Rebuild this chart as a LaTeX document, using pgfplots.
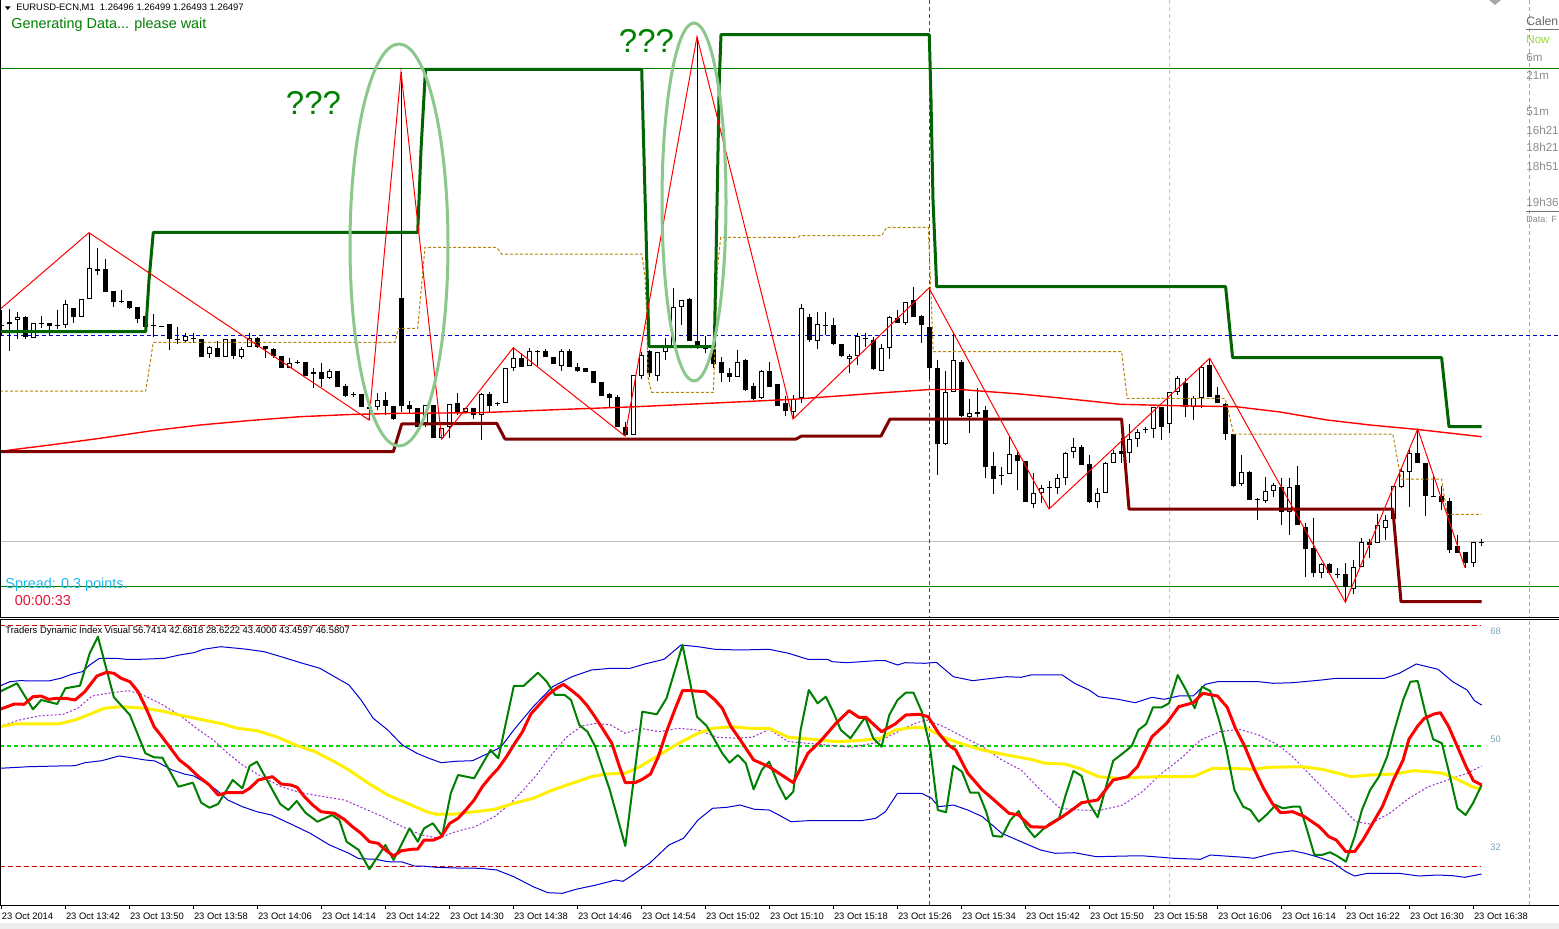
\documentclass[border=0pt]{standalone}
\usepackage{pgfplots}
\pgfplotsset{compat=1.18}
\usepackage{pgfplotstable}
\usepackage{fontspec}
\setmainfont{Liberation Sans}

\definecolor{mtgreen}{RGB}{0,128,0}
\definecolor{stepgreen}{RGB}{0,100,0}
\definecolor{stepred}{RGB}{128,0,0}
\definecolor{golden}{RGB}{184,134,11}
\definecolor{lineblue}{RGB}{0,0,205}
\definecolor{bandblue}{RGB}{0,0,210}
\definecolor{tdipurple}{RGB}{153,50,204}
\definecolor{tdiyellow}{RGB}{255,240,0}
\definecolor{ellgreen}{RGB}{140,200,140}
\definecolor{spreadblue}{RGB}{30,185,240}
\definecolor{timered}{RGB}{230,20,60}
\definecolor{scalegray}{RGB}{125,165,185}
\definecolor{calgray}{RGB}{140,140,140}
\definecolor{nowgreen}{RGB}{150,215,60}
\definecolor{vyellow}{RGB}{225,210,60}
\definecolor{vorange}{RGB}{255,150,20}
\definecolor{bidgray}{RGB}{192,192,192}
\definecolor{levelgreen}{RGB}{0,215,0}
\definecolor{levelred}{RGB}{210,0,0}

% ---------- M1 candles (i = bar index, o/h/l/c = vertical chart position, px from top)
\pgfplotstableread{
i o h l c
0 325 310 335 326
1 324.3 309.3 350.7 322.3
2 320 312.3 339 316.7
3 316.7 316 339 336.7
4 338.3 323.3 338.3 323.3
5 323.3 315.7 328.3 323.8
6 323.3 323.3 335 325.7
7 325 310 329 325.5
8 325 300 328.3 304.3
9 308.3 308.3 323.3 317.3
10 316.7 299.3 316.7 299.3
11 298.7 232.7 298.7 268.3
12 269 248.3 275 270.7
13 269 259.3 291.7 291.7
14 291 291 306.7 301.7
15 301 290 302.7 301.5
16 301 301 309.3 308.3
17 307.3 307.3 323.3 319
18 315.7 315.7 327.3 326.7
19 325 314.3 336.7 325.5
20 326 326 326.5 326.5
21 324.3 324.3 350 338.7
22 339.3 327.3 344 339.8
23 340.7 332.7 343.3 336
24 338.3 333.3 343.3 338.8
25 339 339 356.7 356.7
26 354.3 346 358.3 347
27 348.3 340.7 357.3 357.3
28 356.7 339 356.7 339
29 339 339 359.3 356
30 356.7 346.7 359.3 349
31 347.3 332.7 347.3 338.3
32 338.3 336.7 347.7 346.7
33 346 346 358.3 349.3
34 349 348 358.3 356
35 356 356 368.3 368.3
36 367.7 358.3 368.3 363.3
37 362.3 360 364 362.8
38 361.7 361.7 375.7 375.7
39 374.3 368.3 388.3 372.3
40 372.3 363.3 386.7 379.3
41 378.3 369.3 379.3 371
42 371 371 386.7 386.7
43 386 384 396.7 395.7
44 394 391.7 396.7 394.5
45 394.3 394.3 406.7 406.7
46 406.7 405 420 409
47 407.3 393.3 410 400
48 400 392.3 415 405.7
49 406 406 420 419
50 298.3 72 411.7 405.7
51 405 401 412.7 409.3
52 408.3 408.3 427.3 426.7
53 423.3 405 426.7 405
54 405 405 438.3 438.3
55 438.3 428.3 439 428.3
56 427.3 404 438.3 404
57 402.7 393.3 415 413.3
58 411.7 408.3 413.3 408.3
59 407.7 407.7 419.3 415
60 415 393 440 394
61 394 392.3 411.7 405.7
62 403.3 401.7 406 403.8
63 403.3 368.3 403.3 368.3
64 368.3 347.7 370.7 358.3
65 358.3 353.3 366.7 366.7
66 365.7 348.3 365.7 350.7
67 351 350 366.7 351.5
68 351 349.3 356.7 356.7
69 356.7 356.7 364.3 364.3
70 365.7 349.3 370.7 350.7
71 351 349.3 366.7 366.7
72 366.7 363.3 371.7 370.7
73 367.7 367.7 372.3 372.3
74 371 371 382.7 382.7
75 382.3 382.3 395.7 395.7
76 394 393.3 408.3 397.7
77 396.7 395 426.7 426.7
78 426.7 421.7 436 435
79 435 375 435 375
80 376 351.7 379.3 355
81 351 350 376.7 372.7
82 375.7 352.3 381 352.3
83 352.3 338.3 360 345
84 348.3 288.3 348.3 307.3
85 307.3 300 325 300
86 299 298.3 340.7 340.7
87 340.7 36.7 349.3 347.3
88 346.7 335.7 352.7 349.3
89 349 349 368.3 364.3
90 362.3 357.3 381.7 372.7
91 372.7 367.7 381.7 376.7
92 376.7 350 376.7 362.3
93 360 359.3 390.7 390
94 386 383.3 400 399
95 397.7 370 399 371
96 371 362.3 386.7 386.7
97 384 384 405.7 405.7
98 402.7 396 415.7 410.7
99 411.7 395 419 399.3
100 398.3 304 403.3 308.3
101 316.7 314.3 341.7 340
102 340.7 312.3 349 324
103 325 312.3 335 325.5
104 325 317.7 345 344
105 344 344 357 356
106 359.3 354 372.7 356
107 356 333.3 365 336
108 337.7 332.7 346.7 339.3
109 340 336.7 370 369.3
110 370.7 344 370.7 348.3
111 348.3 316 359.3 317.3
112 318.3 310 323.3 323.3
113 323.3 301.7 325 302.3
114 300 287.3 317.3 317.3
115 316 315 343.3 325
116 327.3 287.3 379.3 368.3
117 368.3 360 475 444.3
118 444.3 371 445 392.3
119 392.3 333.3 392.3 360
120 362.3 360 416.7 415.7
121 416.7 399 432.7 413.3
122 412.3 388.3 416.7 414.3
123 410 406 478.3 466.7
124 466 451.7 494 479.3
125 475 466.7 485 475.5
126 474.3 435.7 474.3 454
127 455 450 490 460.7
128 460.7 460.7 501.7 501.7
129 504.3 473.3 508.3 492.7
130 493.3 485 502.7 488.3
131 487.3 480.7 509 487.8
132 488.3 474 494 478.3
133 478.3 451.7 485 453.3
134 452.3 438.3 458.3 447.3
135 447.3 445 465 465
136 464.3 455 503.3 501.7
137 501.7 488.3 508.3 493.3
138 493.3 461.7 493.3 462.7
139 462.7 450 462.7 452.7
140 451 438.3 462.7 454.3
141 453.3 424 462.7 439.3
142 439.3 429.3 446.7 431.7
143 429.3 426.7 433.3 429.8
144 429.3 407.3 437.7 407.3
145 407.3 407.3 440 426.7
146 424 391.7 433.3 391.7
147 391.7 376 395 378.3
148 382.7 378.3 416.7 406.7
149 406.7 396 420 397.7
150 397.7 365 408.3 367.3
151 365 358.3 396.7 396.7
152 395 386.7 403.3 403.3
153 404.3 403.3 440 434.3
154 434 434 487.3 486
155 484.3 455 486 472.3
156 471.7 471 500 500
157 499.3 498.3 520 499.8
158 500.7 476.7 502.7 491
159 491 483.3 496.7 485
160 486.7 478.3 525 511.7
161 511.7 478.3 535 486.7
162 485 466 525 525
163 526.7 523.3 576.7 549.3
164 548.3 518.3 576.7 572.7
165 573.3 562.7 578.3 564.3
166 564.3 563 574 573.3
167 574 568.3 578.3 574.5
168 574 563.3 602.3 586.7
169 589.3 560 594 567.3
170 566.7 538.3 566.7 541.7
171 541.7 539.3 558.3 545
172 543.3 514 543.3 525
173 528.3 515 540 520
174 519.3 486 519.3 486
175 487.3 466.7 488.3 470.7
176 471.7 448.3 506.7 452.7
177 453.3 429.3 462.7 462.7
178 462.7 462.7 516 496
179 496 476 497.3 496.5
180 496 486 510 501.7
181 500.7 498.3 552.7 550
182 546 535 552.7 552.7
183 551.7 551.7 567.7 562.7
184 562.7 541.7 566.7 541.7
185 541.7 539.3 546 542
}\candles

% ---------- upper panel indicators (x, y in px)
\pgfplotstableread{
x y
0 309.3
89 232.7
369 420
401 72
441.7 439
513.3 347.7
625 436
697 36.7
793 419
929 288
1049 509
1209.7 358.3
1345.4 602.3
1417.7 429
1465 567.7
}\zigzag

\pgfplotstableread{
x y
0 452
10 450
50 445
100 438.3
150 431
200 425
250 420.5
300 416.7
350 414.5
400 413.3
480 412.7
560 409.5
636.7 406.7
715 403
793 399.3
883 392.7
930 389.5
960 389.5
1020 394
1070 399
1120 404.3
1180 405.8
1236 406.7
1280 412
1327 420
1370 425
1416 429.3
1481.6 436.7
}\malong

\pgfplotstableread{
x y
0 331.7
145.7 331.7
149 280
153.3 232.3
417.7 232.3
421 150
425.5 69.3
641.7 69.3
643 120
645.7 220
649 346.7
714.3 346.7
716 260
719.3 80
721 34.7
929.3 34.7
931 100
933 200
936.7 286.7
1225.6 286.7
1232.6 357.7
1441.6 357.7
1449 426.7
1481.6 426.7
}\resline

\pgfplotstableread{
x y
0 451.7
393.3 451.7
401.7 424
496.7 423.3
505 439
796 439
801.7 436
881 436
890 419
1121.6 419
1129 509
1392.8 509
1401 601.7
1481.6 601.7
}\supline

\pgfplotstableread{
x y
0 391
145.7 391
153.3 342.3
395 342.3
398.3 328.3
417.7 328.3
425 247.3
496.7 247.3
501.7 254
641.7 254
645 276.7
646.7 318.3
648.3 380
651.7 392.3
713.3 392.3
714.3 366.7
717.3 270
720.7 237.3
798.3 237.3
800 235.7
881.7 235.7
886.7 227.3
928.3 227.3
933.3 351.7
1121.6 351.7
1127.2 398.3
1225.2 398.3
1233.7 434
1392.8 434
1401 479
1441.6 479
1447.2 514.3
1481.6 514.3
}\midline

% ---------- Traders Dynamic Index (x in px, y = vertical px position in the sub-window)
\pgfplotstableread{
x y
0 691.7
17 683.3
33 709.3
41.2 700
57.2 704
65.4 688.3
80 685.7
89.7 653.3
97.9 636.7
113.9 697.3
129.9 715
145.4 753.3
154.1 757.3
162.4 757.7
178.4 786.7
192.9 782.7
201.2 802.7
209.4 807.7
218.1 804
232.7 780
242.4 788.3
249.6 766
256.9 761.7
280.2 804
288.4 810
296.7 801
305.4 812.7
317.5 821.7
332 815
339.3 820
346.6 841.7
358.7 850
369.4 869.3
385.4 845
393.6 860
409.6 828.3
417.8 841.7
424.1 828.3
432.9 823.3
442.1 836
450.8 793.3
458.1 775
474.1 778.3
490.5 750
498.3 758.3
513.8 686
523.5 686
538 672.7
546.8 681.7
555 695
564.7 695
571 700
579.3 725
587.5 731.7
595.3 746.7
609.8 790
625.3 846
642.3 711.7
656.8 714.3
666.5 698.3
682.5 645
697 716.7
706.7 726
722.3 753.3
729.5 762.7
737.8 755
745.8 763.3
753.6 789.3
761.8 770
769.1 761.7
777.8 783.3
786 799.3
793.3 791.7
800.6 730
808.8 690
817.6 703.3
825.8 696.7
833.1 711.7
840.8 730
850.5 738.3
865.1 717.3
873.3 738.3
881.5 746.7
889.3 715
897.5 700
905.8 692.7
913.5 692.7
921.8 711.7
930 746.7
937.8 810
946 812.3
953.3 765.7
962 771.7
970.2 792.7
978.5 792.7
986.2 811.7
993 836
1001.8 836.7
1010.5 820
1018.7 811
1026 826.7
1034.7 837.3
1043 829.3
1050.2 823.3
1059 818.3
1065.7 795
1073.5 771
1081.7 776
1089 803.3
1097.7 817.3
1106 786.7
1113.2 760.7
1122.9 753.3
1131.7 746
1138.4 730
1146.2 724
1153 707.3
1161.7 707.3
1169 703.3
1177.7 675
1186 690
1194.7 708.3
1202 686.7
1210.2 691
1219.9 723.3
1226.2 748.3
1234.4 790
1243.2 806.7
1250.4 810
1258.7 821.7
1267.4 814
1275.6 805
1282.9 808.3
1292.6 806.7
1299.9 806.7
1307.1 830
1314.4 855
1321.7 855
1329.9 852.3
1337.2 856
1345.9 861.7
1354.6 836.7
1361.9 810
1370.1 790
1378.9 776.7
1387.1 756.7
1394.4 730
1403.1 700
1410.4 681.7
1417.7 681
1425.9 715
1433.2 739.3
1441.9 743.3
1449.2 773.3
1457.4 808.3
1465.6 815
1472.9 803.3
1481.6 785
}\tdigreen

\pgfplotstableread{
x y
0 709.3
14.5 704
24.2 704.3
33 696.7
41.2 696
48.5 699.3
57.2 698.3
65.4 698.3
75.1 700
84.8 691.7
96.9 676
106.6 672.3
113.9 673.3
121.2 678.3
129.9 681.7
138.1 691.7
145.4 706.7
154.1 726.7
162.4 737.3
170.6 748.3
179.4 760
188.1 766.7
198.7 776.7
209.4 785
218.1 795
226.9 792.7
242.4 792.7
249.6 788.3
258.4 780
272.4 776.7
281.1 784
290.8 785
297.1 787.3
304.4 796.7
312.7 805
320.9 811.7
334.5 813.3
344.2 819.3
352.4 826.7
361.1 833.3
369.4 841.7
378.1 843.3
385.4 850
393.6 856
401.4 850.7
412 849.3
417.8 849
424.1 840
433.8 840
441.1 836.7
449.8 823.3
458.1 818.3
466.3 809.3
474.1 800
482.3 786.7
490.5 776.7
498.3 768.3
506.5 756.7
514.8 743.3
522.5 731.7
530.8 714
539 705
547.8 695
556.5 688.3
563.3 684.3
571 690
579.3 696.7
587.5 706
595.3 717.3
603.5 730
611.8 743.3
619.5 766.7
625.3 782.7
635 782.7
642.3 779.3
650.5 774
658.3 756.7
666.5 731.7
674.7 710
682.5 690.7
690.8 690.7
705.3 691.7
715 700
722.3 708.3
731 726.7
739.2 738.3
753.6 760
769.1 766.7
793.3 782.7
807.9 753.3
820 741.7
836 723.3
849.1 710.7
858.8 717.3
866 717.3
881.5 731.7
895.1 724
905.8 715
919.4 714.3
928.1 716.7
938.7 733.3
948.4 745
955.7 750
967.8 773.3
982.4 790
992.1 798.3
1009 813.3
1018.7 815
1030.8 826.7
1045.4 827.3
1059.9 818.3
1069.6 811.7
1081.7 802.7
1097.7 800
1113.2 780
1127.8 776.7
1137.5 766.7
1152 736.7
1166.6 723.3
1178.7 706.7
1193.2 702.7
1202.9 693.3
1217.5 696
1227.2 707.3
1235.4 728.3
1244.1 745
1253.8 768.3
1263.5 788.3
1272.2 803.3
1280.5 812.7
1292.6 811.7
1304.7 816.7
1319.3 826.7
1328.9 836.7
1336.2 840
1345.9 851.7
1354.6 851.7
1362.9 840
1372.6 823.3
1382.3 806.7
1393.4 780
1403.1 760
1408.9 739.3
1417.7 726
1424.4 718.3
1434.1 714
1440.4 712.7
1448.7 726.7
1457.4 746.7
1466.1 766.7
1473.4 780.7
1481.6 785
}\tdired

\pgfplotstableread{
x y
0 726.7
14.5 724
58.2 724
75.1 720
92.1 713.3
104.2 708.3
121.2 706.7
145.4 708.3
160 710.7
179.4 715
203.6 720
223 724
237.5 728.3
256.9 730.7
276.3 736.7
295.7 745
315.1 751.7
334.5 761.7
349 770
368.4 783.3
387.8 795
407.2 803.3
426.6 811.7
436.3 814.3
455.6 814
475 811.7
494.4 809.3
513.8 803.3
533.2 798.3
552.6 790
572 783.3
591.4 776.7
605.9 774
625.3 773.3
639.8 766.7
659.2 755
678.6 743.3
698 733.3
712.5 728.3
731.9 726.7
749.7 728.3
769.1 728.3
788.5 737.3
812.7 739.3
837 741.7
856.3 740.7
880.6 738.3
895.1 730
914.5 727.3
926.6 728.3
943.6 737.3
958.1 742.7
982.4 750
1006.6 755
1030.8 759.3
1045.4 763.3
1064.8 764
1079.3 768.3
1098.7 776.7
1118.1 778.3
1137.5 777.3
1161.7 776.7
1193.2 776.7
1212.6 768.3
1229.6 768.3
1253.8 769.3
1268.3 767.3
1302.3 766.7
1321.7 769.3
1338.6 773.3
1350.8 776.7
1370.1 775
1394.4 774
1413.8 770.7
1428.3 771.7
1442.9 773.3
1457.4 779.3
1471.9 786.7
1481.6 789.3
}\tdiyellow

\pgfplotstableread{
x y
0 726
19.4 720
38.8 716
63 714.3
77.6 708.3
92.1 696
111.5 692.7
128.5 690.7
140.6 694
160 703.3
179.4 715
198.7 730
213.3 740
227.8 753.3
242.4 765
261.8 776.7
281.1 786.7
300.5 792.7
319.9 796
344.2 800
363.5 808.3
382.9 816.7
402.3 826.7
421.7 835
438.7 838.3
455.6 831.7
475 826.7
494.4 816.7
508.9 805
523.5 790
538 773.3
552.6 753.3
567.1 736.7
581.7 726
596.2 723.3
610.8 725
625.3 733.3
639.8 728.3
659.2 731.7
678.6 728.3
698 730
717.4 737.3
736.8 738.3
752.1 737.3
769.1 729.3
788.5 741.7
807.9 743.3
827.3 745
851.5 747.3
875.7 742.7
895.1 733.3
914.5 723.3
926.6 720
943.6 726.7
963 736.7
982.4 746.7
1001.8 760
1021.1 770
1040.5 790
1059.9 808.3
1079.3 810
1098.7 810.7
1122.9 805
1142.3 791.7
1161.7 773.3
1181.1 758.3
1200.5 740
1219.9 731.7
1239.3 729.3
1258.7 735
1278.1 745
1292.6 756.7
1307.1 771.7
1321.7 786.7
1341.1 806.7
1355.6 821.7
1370.1 824
1389.5 813.3
1408.9 798.3
1428.3 786.7
1447.7 780
1467.1 773.3
1481.6 766
}\tdipurple

\pgfplotstableread{
x y
0 686
9.7 681.7
19.4 680.7
48.5 681
60.6 678.3
72.7 674
82.4 671.7
89.7 665
99.4 658.3
116.3 658.3
126 659.3
140.6 659.3
164.8 658.3
179.4 655
193.9 652.7
203.6 649.3
220.6 646.7
237.5 648.3
247.2 649.3
264.2 651.7
281.1 656.7
300.5 662.7
319.9 668.3
334.5 676.7
349 685
361.1 700
373.2 718.3
387.8 730
402.3 745
416.9 753.3
429 758.3
441.1 762.7
455.6 761.3
472.6 760.7
484.7 755
496.8 749.3
501.7 746
513.8 730
533.2 706.7
552.6 686.7
572 676.7
591.4 670
610.8 668.3
630.2 668.3
644.7 664
664.1 659.3
681 645
698 646.7
715 649.3
740 650
769.1 649.3
788.5 653.3
807.9 659.3
827.3 659.3
832.1 661.7
846.6 662.7
875.7 660.7
885.4 660.7
897.5 665
904.8 662.7
924.2 663.3
936.3 662.3
953.3 676.7
972.7 680.7
992.1 678.3
1006.6 676.7
1021.1 677.3
1030.8 675
1062.3 675
1074.5 683.3
1089 690
1098.7 696.7
1118.1 699.3
1135.1 702.7
1152 697.3
1164.1 699.3
1178.7 696
1193.2 696
1205.3 684.3
1217.5 681.7
1258.7 681.7
1273.2 683.3
1292.6 682.7
1321.7 680
1336.2 678.3
1384.7 678.3
1399.2 673.3
1416.2 664
1438 669.3
1452.6 681.7
1467.1 690
1474.4 700.7
1481.6 705
}\tdiup

\pgfplotstableread{
x y
0 768.3
29.1 766.7
58.2 766
75.1 765.7
84.8 762.7
101.8 760.7
118.8 756
128.5 757.3
145.4 760
155.1 761
164.8 766
172.1 770
184.2 774
193.9 776
203.6 781.7
215.7 789.3
227.8 800
242.4 806.7
256.9 811.7
271.4 815
290.8 824
310.2 833.3
329.6 845
349 853.3
358.7 858.7
375.7 859.3
387.8 861.7
402.3 862
414.4 866
421.7 866
436.3 867.3
455.6 868
479.9 868.3
496.8 870
513.8 876.7
533.2 886.7
547.8 892.7
562.3 893.3
576 889.3
596.2 885
615.6 880
622.9 881.3
630.2 876.7
649.5 863.3
668.9 845
683.5 838.3
698 820
712.5 808.3
727.1 807.3
740 805
754.5 809.3
769.1 810
778.8 815
790.9 821.7
807.9 820.7
861.2 820.7
875.7 818.3
885.4 811.7
897.5 793.3
921.8 793.3
931.5 798.3
938.7 806.7
953.3 805
967.8 810
982.4 816.7
1001.8 833.3
1021.1 841.7
1040.5 850
1055.1 853.3
1074.5 852.7
1096.3 856.7
1127.8 856
1144.7 856
1161.7 857.3
1173.8 858.3
1200.5 859.3
1210.2 855
1224.7 856
1244.1 857.3
1253.8 858.3
1273.2 853.3
1292.6 850.7
1304.7 853.3
1316.8 856.7
1331.4 861.7
1345.9 871.7
1354.6 876
1367.7 873.3
1399.2 873.3
1418.6 876
1438 875
1452.6 875.7
1464.7 877.3
1481.6 874
}\tdilow

\newcommand{\tinyfont}{\fontsize{4.7}{5.6}\selectfont}
\newcommand{\calfont}{\fontsize{5.8}{7}\selectfont}

\begin{document}
\begin{tikzpicture}
\useasboundingbox (0,0) rectangle (779.5pt,-464.5pt);
\fill[white] (0,0) rectangle (779.5pt,-464.5pt);
\fill[black!7] (0,-461.5pt) rectangle (779.5pt,-464.5pt);

% ================= price window =================
\begin{axis}[
  at={(0,0)}, anchor=north west,
  x=0.5pt, y=0.5pt, y dir=reverse,
  xmin=0, xmax=1559, ymin=0, ymax=617.5,
  hide axis, clip=false,
]
\addplot[mtgreen, line width=0.5pt] coordinates {(0,68.5) (1559,68.5)};
\addplot[bidgray, line width=0.5pt] coordinates {(0,541.5) (1559,541.5)};
\addplot[mtgreen, line width=0.5pt] coordinates {(0,586) (1559,586)};
\addplot[lineblue, line width=0.5pt, dash pattern=on 2pt off 1.5pt] coordinates {(0,335) (1559,335)};
\addplot[red, line width=0.5pt, dash pattern=on 2pt off 1.5pt] coordinates {(929,0) (929,617.5)};
\addplot[vyellow, line width=0.5pt, dash pattern=on 2pt off 1.5pt] coordinates {(1169,0) (1169,617.5)};
\addplot[vorange, line width=0.5pt, dash pattern=on 2pt off 1.5pt] coordinates {(1529,0) (1529,617.5)};

% candles: wick (high-low), body (open-close), white inside of rising bars
\addplot[draw=none, mark=none, error bars/.cd, y dir=plus, y explicit, error mark=none,
  error bar style={draw=black, line width=0.5pt}]
  table[x expr=1+8*\thisrow{i}, y=h, y error expr=\thisrow{l}-\thisrow{h}] {\candles};
\addplot[draw=none, mark=none, error bars/.cd, y dir=plus, y explicit, error mark=none,
  error bar style={draw=black, line width=2.5pt}]
  table[x expr=1+8*\thisrow{i}, y expr={min(\thisrow{o},\thisrow{c})}, y error expr={max(abs(\thisrow{o}-\thisrow{c}),1)}] {\candles};
\addplot[draw=none, mark=none, error bars/.cd, y dir=plus, y explicit, error mark=none,
  error bar style={draw=white, line width=1.5pt}]
  table[x expr=1+8*\thisrow{i}, y expr={\thisrow{c}+1}, y error expr={max(\thisrow{o}-\thisrow{c}-2,0)}] {\candles};

\addplot[red, line width=0.7pt] table[x=x,y=y] {\malong};
\addplot[golden, line width=0.5pt, dash pattern=on 1.5pt off 1pt] table[x=x,y=y] {\midline};
\addplot[stepred, line width=1.5pt, line join=round] table[x=x,y=y] {\supline};
\addplot[stepgreen, line width=1.5pt, line join=round] table[x=x,y=y] {\resline};
\addplot[red, line width=0.5pt] table[x=x,y=y] {\zigzag};

\draw[ellgreen, line width=1.5pt] (axis cs:399,245) ellipse [x radius=24.5pt, y radius=100.5pt];
\draw[ellgreen, line width=1.5pt] (axis cs:694,202) ellipse [x radius=16pt, y radius=89.5pt];
\node[mtgreen, font=\fontsize{16.5}{18}\selectfont, inner sep=0pt] at (axis cs:313.5,102.5) {???};
\node[mtgreen, font=\fontsize{16.5}{18}\selectfont, inner sep=0pt] at (axis cs:646.5,41) {???};

\fill[black] (axis cs:5,6.5) -- (axis cs:10.5,6.5) -- (axis cs:7.75,10) -- cycle;
\node[anchor=base west, inner sep=0pt, font=\tinyfont] at (axis cs:16,10.5) {EURUSD-ECN,M1\ \ 1.26496 1.26499 1.26493 1.26497};
\node[anchor=base west, inner sep=0pt, mtgreen, font=\fontsize{7.2}{8}\selectfont] at (axis cs:11,29) {Generating Data... please wait};
\node[anchor=base west, inner sep=0pt, spreadblue, font=\fontsize{7.2}{8}\selectfont] at (axis cs:5,588.5) {Spread: 0.3 points.};
\node[anchor=base west, inner sep=0pt, timered, font=\fontsize{7.2}{8}\selectfont] at (axis cs:14.5,605.5) {00:00:33};

\fill[black!35] (axis cs:1489,0) -- (axis cs:1501,0) -- (axis cs:1495,5) -- cycle;
\node[anchor=base west, inner sep=0pt, black!60, font=\fontsize{6.1}{7}\selectfont] at (axis cs:1526,26) {Calen};
\draw[black!55, line width=0.5pt] (axis cs:1526,29.5) -- (axis cs:1559,29.5);
\node[anchor=base west, inner sep=0pt, nowgreen, font=\calfont] at (axis cs:1526,44) {Now};
\node[anchor=base west, inner sep=0pt, calgray, font=\calfont] at (axis cs:1526,62) {6m};
\node[anchor=base west, inner sep=0pt, calgray, font=\calfont] at (axis cs:1526,80) {21m};
\node[anchor=base west, inner sep=0pt, calgray, font=\calfont] at (axis cs:1526,116) {51m};
\node[anchor=base west, inner sep=0pt, calgray, font=\calfont] at (axis cs:1526,134) {16h21};
\node[anchor=base west, inner sep=0pt, calgray, font=\calfont] at (axis cs:1526,152) {18h21};
\node[anchor=base west, inner sep=0pt, calgray, font=\calfont] at (axis cs:1526,170) {18h51};
\node[anchor=base west, inner sep=0pt, calgray, font=\calfont] at (axis cs:1526,206) {19h36};
\draw[black!55, line width=0.5pt] (axis cs:1526,211) -- (axis cs:1559,211);
\node[anchor=base west, inner sep=0pt, calgray, font=\fontsize{4.5}{5}\selectfont] at (axis cs:1526,222) {Data: F};

\draw[black, line width=0.8pt] (axis cs:0.4,0) -- (axis cs:0.4,617.5);
\draw[black, line width=0.5pt] (axis cs:0,617.5) -- (axis cs:1559,617.5);
\end{axis}

% ================= Traders Dynamic Index window =================
\begin{axis}[
  at={(0,-310pt)}, anchor=north west,
  x=0.5pt, y=3pt,
  xmin=0, xmax=1559, ymin=23.5, ymax=71,
  clip=false,
  axis x line*=bottom, axis y line=none,
  axis line style={-, line width=0.5pt},
  ytick=\empty,
  xtick={1,65,...,1473},
  xticklabels={23 Oct 2014, 23 Oct 13:42, 23 Oct 13:50, 23 Oct 13:58, 23 Oct 14:06, 23 Oct 14:14, 23 Oct 14:22, 23 Oct 14:30, 23 Oct 14:38, 23 Oct 14:46, 23 Oct 14:54, 23 Oct 15:02, 23 Oct 15:10, 23 Oct 15:18, 23 Oct 15:26, 23 Oct 15:34, 23 Oct 15:42, 23 Oct 15:50, 23 Oct 15:58, 23 Oct 16:06, 23 Oct 16:14, 23 Oct 16:22, 23 Oct 16:30, 23 Oct 16:38},
  xtick align=outside,
  major tick length=2pt,
  every tick/.style={black, line width=0.5pt},
  xticklabel style={anchor=north west, inner sep=0pt, xshift=0.3pt, yshift=-1.8pt, font=\tinyfont},
]
\addplot[levelred, line width=0.5pt, dash pattern=on 2.5pt off 1.5pt] coordinates {(0,70) (1481,70)};
\addplot[levelred, line width=0.5pt, dash pattern=on 2.5pt off 1.5pt] coordinates {(0,30) (1481,30)};
\addplot[levelgreen, line width=0.6pt, dash pattern=on 2pt off 1.5pt] coordinates {(0,50) (1481,50)};
\addplot[red, line width=0.5pt, dash pattern=on 2pt off 1.5pt] coordinates {(929.5,23.5) (929.5,71)};
\addplot[vyellow, line width=0.5pt, dash pattern=on 2pt off 1.5pt] coordinates {(1169.5,23.5) (1169.5,71)};
\addplot[vorange, line width=0.5pt, dash pattern=on 2pt off 1.5pt] coordinates {(1529,23.5) (1529,71)};

\addplot[bandblue, line width=0.5pt] table[x=x, y expr={50+(746-\thisrow{y})/6}] {\tdiup};
\addplot[bandblue, line width=0.5pt] table[x=x, y expr={50+(746-\thisrow{y})/6}] {\tdilow};
\addplot[tdipurple, line width=0.5pt, dash pattern=on 1pt off 1pt] table[x=x, y expr={50+(746-\thisrow{y})/6}] {\tdipurple};
\addplot[tdiyellow, line width=1.5pt, line join=round] table[x=x, y expr={50+(746-\thisrow{y})/6}] {\tdiyellow};
\addplot[mtgreen, line width=1pt, line join=round] table[x=x, y expr={50+(746-\thisrow{y})/6}] {\tdigreen};
\addplot[red, line width=1.5pt, line join=round] table[x=x, y expr={50+(746-\thisrow{y})/6}] {\tdired};

\node[anchor=base west, inner sep=0pt, font=\tinyfont] at (axis cs:5,68.8) {Traders Dynamic Index Visual 56.7414 42.6818 28.6222 43.4000 43.4597 46.5807};
\node[anchor=west, inner sep=0pt, scalegray, font=\tinyfont] at (axis cs:1490,69.1) {68};
\node[anchor=west, inner sep=0pt, scalegray, font=\tinyfont] at (axis cs:1490,51.15) {50};
\node[anchor=west, inner sep=0pt, scalegray, font=\tinyfont] at (axis cs:1490,33.05) {32};

\draw[black, line width=0.5pt] (axis cs:0,71) -- (axis cs:1559,71);
\draw[black, line width=0.8pt] (axis cs:0.4,23.5) -- (axis cs:0.4,71);
\end{axis}
\end{tikzpicture}
\end{document}
